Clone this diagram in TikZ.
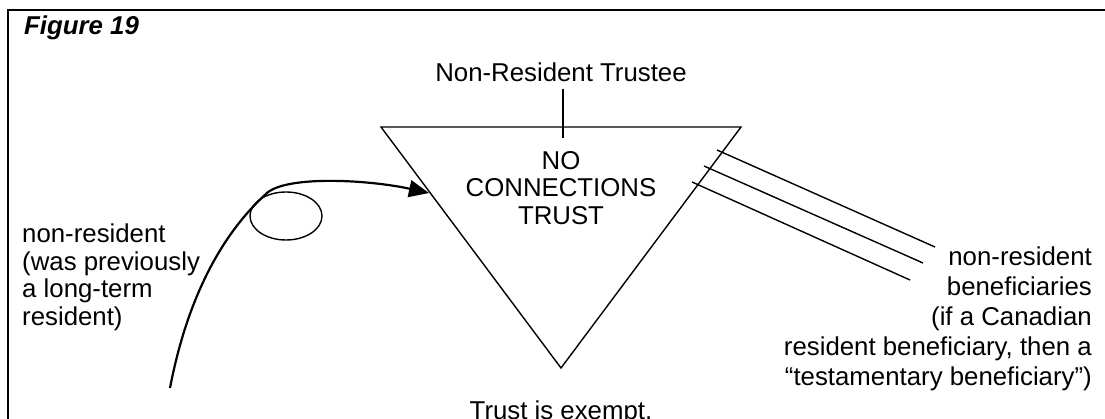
\documentclass[tikz,border=0pt]{standalone}
\usepackage{fontspec}
\setmainfont{Liberation Sans}
\usetikzlibrary{arrows.meta,shapes.geometric}
\begin{document}
\begin{tikzpicture}[x=1pt,y=-1pt,
  txt/.style={inner sep=0pt, font=\fontsize{25.8}{27.5}\selectfont},
  rtxt/.style={inner sep=0pt, font=\fontsize{25.8}{29.8}\selectfont},
  edge/.style={line width=1.4pt},
  frame/.style={line width=2.6pt},
  bold curve/.style={line width=2.2pt, -{Triangle[length=20pt,width=17pt]}},
 ]
\useasboundingbox (0,0) rectangle (1105,419);
\draw[frame] (8,430) -- (8,10) -- (1110,10);
\node[inner sep=0pt, anchor=base west, font=\fontsize{25.8}{27.5}\selectfont\bfseries\itshape] (fig) at (24,35) {Figure 19};
\node[txt, anchor=base] (trustee) at (561,82) {Non-Resident Trustee};
\coordinate (TL) at (381,127);
\coordinate (TR) at (741,127);
\coordinate (AP) at (561,368);
\draw[edge, line join=miter] (TL) -- (TR) -- (AP) -- cycle;
\draw[edge] ([xshift=2pt,yshift=-7pt]trustee.south) -- ([xshift=2pt]trustee.south |- TL) -- ++(0,11);
\node[txt, align=center, anchor=north] (trust) at (561,151) {NO\\CONNECTIONS\\TRUST};
\node[txt, anchor=base] (exempt) at (561,419) {Trust is exempt.};
\node[txt, align=left, anchor=north west] (settlor) at (22,224) {non-resident\\(was previously\\a long-term\\resident)};
\node[rtxt, align=right, anchor=north east] (benef) at (1092,247) {non-resident\\beneficiaries\\(if a Canadian\\resident beneficiary, then a\\“testamentary beneficiary”)};
\node[draw, edge, ellipse, minimum width=72pt, minimum height=48pt, inner sep=0pt] (loop) at (286,216) {};
\coordinate (cstart) at (170,388);
\coordinate (cmid) at (267,193);
\coordinate (ctip) at (429,193);
\draw[bold curve] (cstart) .. controls (185,310) and (215,240) .. (cmid) .. controls (288,175) and (370,180) .. (ctip);
\coordinate (b1s) at (717,150);
\coordinate (b1e) at (935,247);
\coordinate (b2s) at (704,166);
\coordinate (b2e) at (923,263);
\coordinate (b3s) at (692,182);
\coordinate (b3e) at (910,280);
\draw[edge] (b1s) -- (b1e);
\draw[edge] (b2s) -- (b2e);
\draw[edge] (b3s) -- (b3e);
\end{tikzpicture}
\end{document}
